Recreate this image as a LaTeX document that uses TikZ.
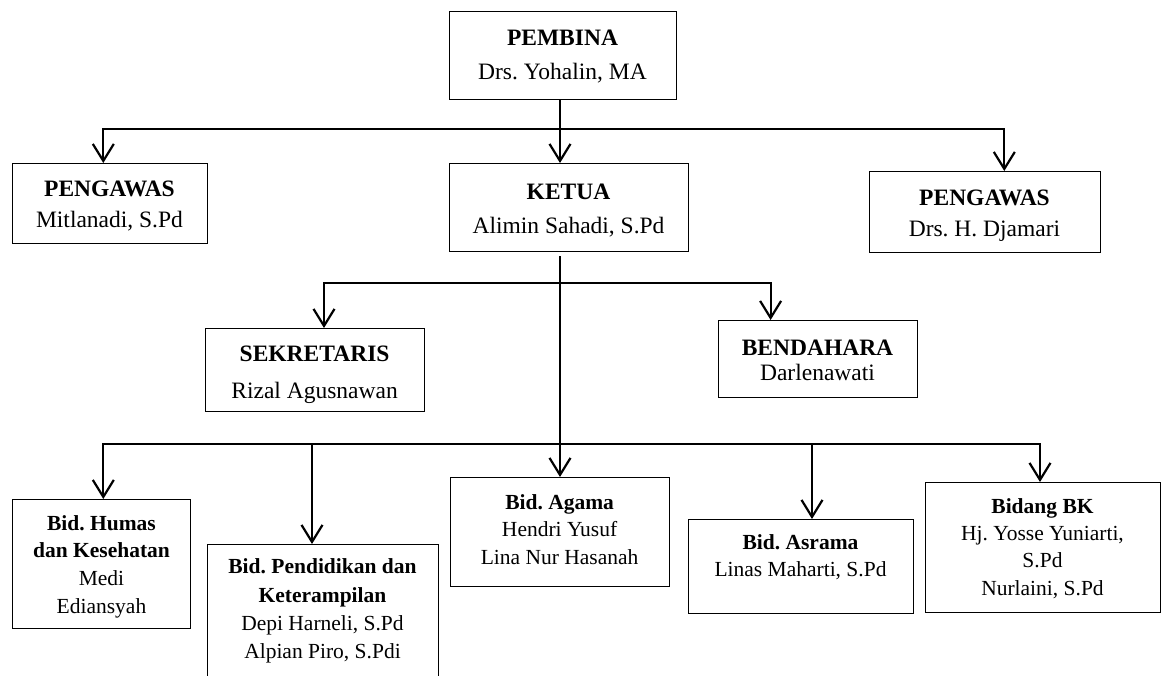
\documentclass[tikz,border=0pt]{standalone}
\usepackage{fontspec}
\setmainfont{Liberation Serif}
\usetikzlibrary{arrows.meta}
\frenchspacing
\tikzset{
  box/.style={draw, line width=1.3pt, inner sep=0pt, anchor=north west},
  ttop/.style={font=\frenchspacing\fontsize{23.5}{#1}\selectfont, align=center, anchor=base, inner sep=0pt},
  tbot/.style={font=\frenchspacing\fontsize{21.5}{#1}\selectfont, align=center, anchor=base, inner sep=0pt},
  conn/.style={line width=2.2pt, line join=miter},
  vtip/.tip={Straight Barb[length=17pt,width=21pt]},
  arr/.style={conn, -vtip},
  darr/.style={conn, vtip-vtip}
}
\begin{document}
\begin{tikzpicture}[x=1pt,y=-1pt]
\clip (0,0) rectangle (1162,675);
\fill[white] (0,0) rectangle (1162,675);

% boxes
\node[box, minimum width=227pt, minimum height=88pt] (pembina) at (449,11) {};
\node[box, minimum width=195pt, minimum height=80pt] (pengL) at (12,163) {};
\node[box, minimum width=239pt, minimum height=88pt] (ketua) at (449,163) {};
\node[box, minimum width=231pt, minimum height=81pt] (pengR) at (869,171) {};
\node[box, minimum width=219pt, minimum height=83pt] (sek) at (205,328) {};
\node[box, minimum width=199pt, minimum height=77pt] (ben) at (718,320) {};
\node[box, minimum width=178pt, minimum height=129pt] (humas) at (12,499) {};
\node[box, minimum width=231pt, minimum height=160pt] (pend) at (207,544) {};
\node[box, minimum width=219pt, minimum height=109pt] (agama) at (450,477) {};
\node[box, minimum width=225pt, minimum height=94pt] (asrama) at (688,519) {};
\node[box, minimum width=235pt, minimum height=130pt] (bk) at (925,482) {};

% texts (anchor = baseline of the last line)
\node[ttop=33.3pt] (pembina-t) at (562.5,79) {\textbf{PEMBINA}\\Drs. Yohalin, MA};
\node[ttop=31pt] (pengL-t) at (109.5,227.7) {\textbf{PENGAWAS}\\Mitlanadi, S.Pd};
\node[ttop=34pt] (ketua-t) at (568.5,233.3) {\textbf{KETUA}\\Alimin Sahadi, S.Pd};
\node[ttop=31.7pt] (pengR-t) at (984.5,236.7) {\textbf{PENGAWAS}\\Drs. H. Djamari};
\node[ttop=36.7pt] (sek-t) at (314.6,398.4) {\textbf{SEKRETARIS}\\Rizal Agusnawan};
\node[ttop=25pt] (ben-t) at (817.5,380) {\textbf{BENDAHARA}\\Darlenawati};
\node[tbot=27.8pt] (humas-t) at (101.5,613.4) {\textbf{Bid. Humas}\\\textbf{dan Kesehatan}\\Medi\\Ediansyah};
\node[tbot=28.3pt] (pend-t) at (322.5,658.7) {\textbf{Bid. Pendidikan dan}\\\textbf{Keterampilan}\\Depi Harneli, S.Pd\\Alpian Piro, S.Pdi};
\node[tbot=27.5pt] (agama-t) at (559.6,564.3) {\textbf{Bid. Agama}\\Hendri Yusuf\\Lina Nur Hasanah};
\node[tbot=27pt] (asrama-t) at (800.5,576.5) {\textbf{Bid. Asrama}\\Linas Maharti, S.Pd};
\node[tbot=27.3pt] (bk-t) at (1042.5,595.2) {\textbf{Bidang BK}\\Hj. Yosse Yuniarti,\\S.Pd\\Nurlaini, S.Pd};

% junction points
\coordinate (c) at (560,129);
\coordinate (hL) at (103.3,129);
\coordinate (hR) at (1004.3,129);
\coordinate (kb) at (560,256);
\coordinate (s1) at (324,283.3);
\coordinate (s2) at (770.6,283.3);
\coordinate (b1) at (103.3,444);
\coordinate (b2) at (312,444);
\coordinate (b4) at (812,444);
\coordinate (b5) at (1040,444);

% connectors
\draw[arr] (pembina.south -| c) -- (ketua.north -| c);
\draw[darr] (pengL.north -| hL) -- (hL) -- (hR) -- (pengR.north -| hR);
\draw[arr] (kb) -- (agama.north -| kb);
\draw[darr] (sek.north -| s1) -- (s1) -- (s2) -- (ben.north -| s2);
\draw[darr] (humas.north -| b1) -- (b1) -- (b5) -- (bk.north -| b5);
\draw[arr] (b2) -- (pend.north -| b2);
\draw[arr] (b4) -- (asrama.north -| b4);
\end{tikzpicture}
\end{document}
